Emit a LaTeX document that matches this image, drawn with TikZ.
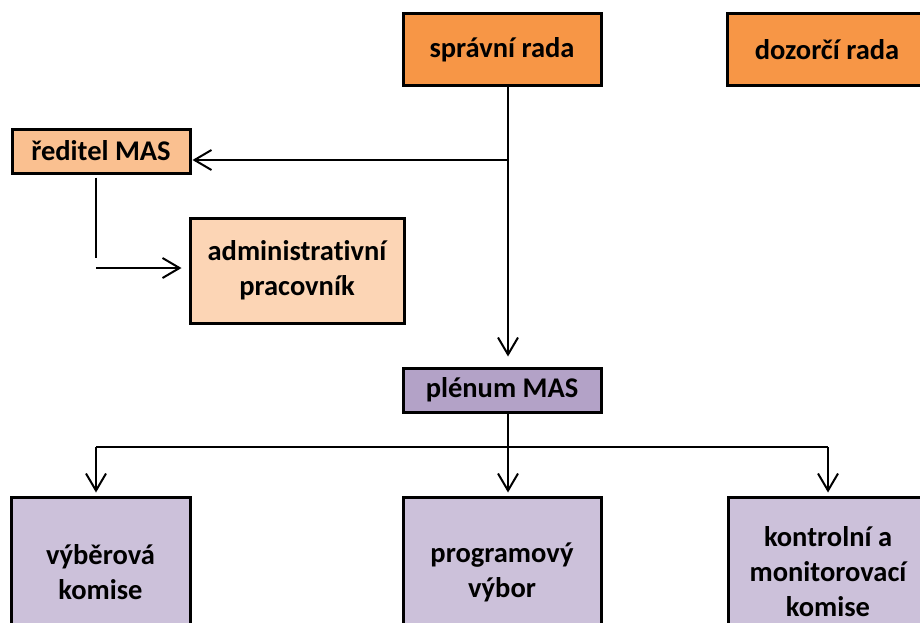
\documentclass[tikz,border=0pt]{standalone}
\usepackage{fontspec}
\setmainfont{Carlito}[Ligatures={NoCommon}]
\usetikzlibrary{arrows.meta}
\definecolor{orangeA}{HTML}{F79646}
\definecolor{peachA}{HTML}{FAC090}
\definecolor{peachB}{HTML}{FCD5B5}
\definecolor{purpA}{HTML}{B3A2C7}
\definecolor{purpB}{HTML}{CCC1DA}
\begin{document}
\begin{tikzpicture}[x=1pt,y=-1pt,
  box/.style={draw=black, line width=3pt, align=center, inner sep=0pt,
    font=\bfseries\fontsize{28.5}{35}\selectfont},
  conn/.style={line width=2pt, draw=black},
  tip/.style={-{Straight Barb[length=17pt,width=20pt]}}]
\useasboundingbox (0,0) rectangle (920,623);
\clip (0,0) rectangle (920,623);
\fill[white] (0,0) rectangle (920,623);
% nodes
\node[box, fill=orangeA, minimum width=198pt, minimum height=72pt] (sprav) at (502,50) {správní rada};
\node[box, fill=orangeA, minimum width=200pt, minimum height=72pt] (dozor) at (827,50) {dozorčí rada};
\node[box, fill=peachA, minimum width=178pt, minimum height=44pt] (reditel) at (101,151) {ředitel MAS};
\node[box, fill=peachB, minimum width=214pt, minimum height=105pt] (admin) at (297,270.5) {administrat\kern0pt ivní\\pracovník};
\node[box, fill=purpA, minimum width=198pt, minimum height=44pt] (plenum) at (502,390) {plénum MAS};
\node[box, fill=purpB, minimum width=179pt, minimum height=150pt] (vyber) at (100.5,572) {výběrová\\komise};
\node[box, fill=purpB, minimum width=198pt, minimum height=150pt] (program) at (502,572) {programový\\výbor};
\node[box, fill=purpB, minimum width=200pt, minimum height=150pt] (kontrol) at (828,572) {kontrolní a\\monitorovací\\komise};
% connectors
\coordinate (j1) at (508,160);
\draw[conn, tip, shorten >=10pt] (sprav.south -| j1) -- (plenum.north -| j1);
\draw[conn, tip, shorten >=1pt] (j1) -- (j1 -| reditel.east);
\coordinate (r1) at (96,258);
\coordinate (r2) at (96,268);
\draw[conn, shorten <=3pt] (reditel.south -| r1) -- (r1);
\draw[conn, tip, shorten >=7pt] (r2) -- (r2 -| admin.west);
\coordinate (b0) at (508,447);
\coordinate (bl) at (96,447);
\coordinate (br) at (828,447);
\draw[conn] (plenum.south -| b0) -- (b0);
\draw[conn] (bl) -- (br);
\draw[conn, tip, shorten >=3pt] (bl) -- (bl |- vyber.north);
\draw[conn, tip, shorten >=3pt] (b0) -- (b0 |- program.north);
\draw[conn, tip, shorten >=3pt] (br) -- (br |- kontrol.north);
\end{tikzpicture}
\end{document}
